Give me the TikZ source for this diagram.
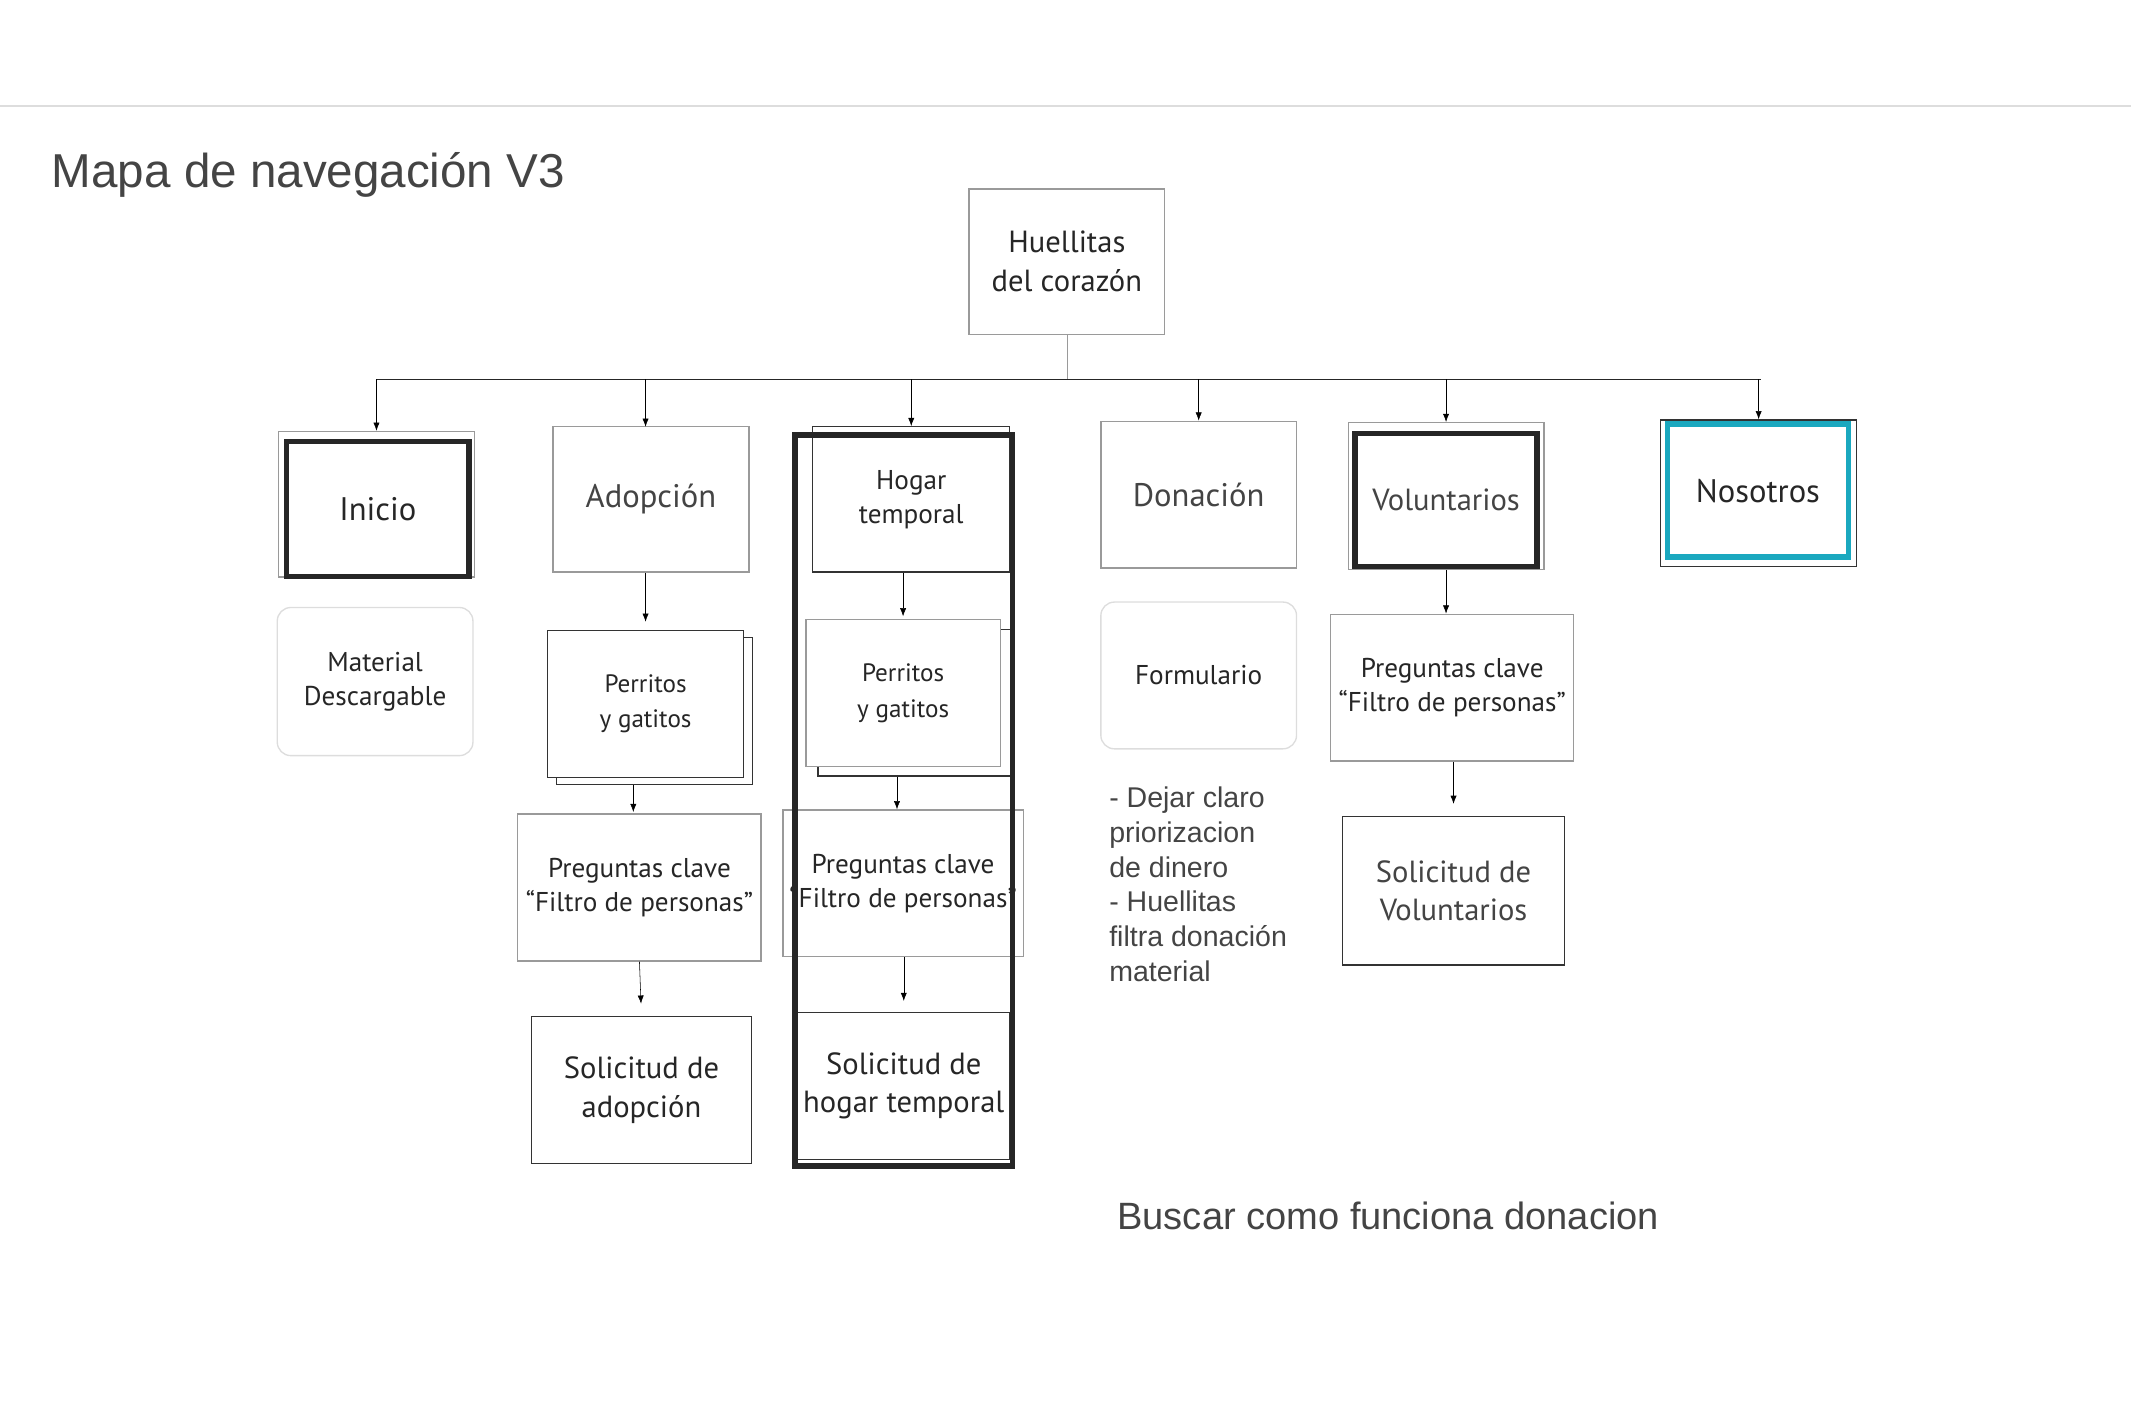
\documentclass[tikz,border=0pt]{standalone}
\usepackage{fontspec}
\setmainfont{PT Sans}
\newfontfamily\slidesfont{Liberation Sans}
\usetikzlibrary{arrows.meta}
\definecolor{boxgray}{HTML}{9A9A9A}
\definecolor{softgray}{HTML}{DDDDDD}
\definecolor{textgray}{HTML}{444444}
\definecolor{labelink}{HTML}{262626}
\definecolor{nosotrosteal}{HTML}{1AA8BF}
\newcommand\labelhuge{\fontsize{24}{29}\selectfont}
\newcommand\labelbig{\fontsize{22.5}{28.5}\selectfont}
\newcommand\labelsmall{\fontsize{20}{25}\selectfont}
\newcommand\labeltiny{\fontsize{18.5}{26}\selectfont}

\begin{document}
\begin{tikzpicture}[x=1pt,y=-1pt,>={Latex[length=6pt,width=4.5pt]}]
     \useasboundingbox (0,0) rectangle (1568,1040);
     \tikzstyle{box} = [draw=boxgray,line width=1pt,fill=white,inner sep=0pt,align=center,text=labelink,minimum width=144pt,minimum height=107pt]
     \tikzstyle{darkbox} = [box,draw=black!80]
     \tikzstyle{softbox} = [box,draw=softgray,rounded corners=10pt]
     \tikzstyle{heavybox} = [draw=black!85,line width=4pt,inner sep=0pt,align=center,text=labelink]
     \tikzstyle{slidestext} = [inner sep=0pt,text=textgray,align=left]
     \draw [softgray,line width=2pt] (0,78) -- (1568,78);
     \node [slidestext,anchor=west,font=\slidesfont\fontsize{35}{40}\selectfont] (titulo) at (38,129) {Mapa de navegación V3};
     \node [box,font=\labelbig] (huellitas) at (785,192.5) {Huellitas\\del corazón};
     \coordinate (busL) at (277,279);
     \coordinate (busR) at (1296,279);
     \node [box] (inicioback) at (277,371) {};
     \node [heavybox,minimum width=134pt,minimum height=99pt,font=\labelhuge] (inicio) at (278,374.5) {Inicio};
     \node [softbox,minimum height=109pt,font=\labelsmall] (material) at (276,501.5) {Material\\Descargable};
     \node [box,font=\labelhuge,text=textgray] (adopcion) at (479,367.5) {Adopción};
     \node [darkbox,minimum height=108pt] (perritosAback) at (481.5,523) {};
     \node [darkbox,minimum height=108pt,font=\labeltiny] (perritosA) at (475,518) {Perritos\\y gatitos};
     \node [box,minimum width=179pt,minimum height=108pt,font=\labelsmall] (preguntasA) at (470.5,653) {Preguntas clave\\“Filtro de personas”};
     \node [darkbox,minimum width=162pt,minimum height=108pt,font=\labelbig] (solicitudA) at (472,802) {Solicitud de\\adopción};
     \node [darkbox,minimum width=145pt,font=\labelsmall] (hogar) at (670.5,367.5) {Hogar\\temporal};
     \node [darkbox,minimum width=143pt,minimum height=108pt] (perritosHback) at (673.5,517) {};
     \node [box,minimum width=143pt,minimum height=108pt,font=\labeltiny] (perritosH) at (664.5,510) {Perritos\\y gatitos};
     \node [box,minimum width=177pt,minimum height=108pt,font=\labelsmall] (preguntasH) at (664.5,650) {Preguntas clave\\“Filtro de personas”};
     \node [darkbox,minimum width=156pt,minimum height=108pt,font=\labelbig] (solicitudH) at (665,799) {Solicitud de\\hogar temporal};
     \node [heavybox,minimum width=160pt,minimum height=538pt] (hogarcol) at (665,589) {};
     \node [box,minimum height=108pt,font=\labelhuge,text=textgray] (donacion) at (882,364) {Donación};
     \node [softbox,minimum height=108pt,font=\labelsmall] (formulario) at (882,497) {Formulario};
     \node [slidestext,anchor=north west,font=\slidesfont\fontsize{21}{25.5}\selectfont] (notas) at (816,579) {- Dejar claro\\priorizacion\\de dinero\\- Huellitas\\filtra donación\\material};
     \node [box,minimum height=108pt] (voluntariosback) at (1064,365) {};
     \node [heavybox,minimum width=134pt,minimum height=98pt,font=\labelbig,text=textgray] (voluntarios) at (1064,368) {Voluntarios};
     \node [box,minimum width=179pt,minimum height=108pt,font=\labelsmall] (preguntasV) at (1068.5,506) {Preguntas clave\\“Filtro de personas”};
     \node [darkbox,minimum width=163pt,minimum height=109pt,font=\labelbig,text=textgray] (solicitudV) at (1069.5,655.5) {Solicitud de\\Voluntarios};
     \node [darkbox,minimum height=108pt] (nosotrosback) at (1294,363) {};
     \node [heavybox,draw=nosotrosteal,minimum width=133pt,minimum height=98pt,font=\labelhuge] (nosotros) at (1293.5,361) {Nosotros};
     \node [slidestext,anchor=west,font=\slidesfont\fontsize{28}{32}\selectfont] (buscar) at (822,895) {Buscar como funciona donacion};
     \draw [boxgray] (huellitas.south) to (huellitas.south |- busL);
     \draw [black!85] (busL) to (busR);
     \draw [->] (busL) to (inicioback.north);
     \draw [->] (busL -| 475,0) to (475,314);
     \draw [->] (hogar.north |- busL) to (hogar.north);
     \draw [->] (donacion.north |- busL) to (donacion.north);
     \draw [->] (voluntariosback.north |- busL) to (voluntariosback.north);
     \draw [->] (nosotrosback.north |- busL) to (nosotrosback.north);
     \draw [->,shorten >=6pt] (adopcion.south -| perritosA.north) to (perritosA.north);
     \draw [->,shorten >=1pt] (perritosAback.south -| 466,0) to (preguntasA.north -| 466,0);
     \draw [->,shorten >=9pt] (preguntasA.south) to (solicitudA.north);
     \draw [->,shorten >=2pt] (hogar.south -| perritosH.north) to (perritosH.north);
     \draw [->] (perritosHback.south -| 660,0) to (preguntasH.north -| 660,0);
     \draw [->,shorten >=8pt] (preguntasH.south -| solicitudH.north) to (solicitudH.north);
     \draw [->] (voluntariosback.south) to (voluntariosback.south |- preguntasV.north);
     \draw [->,shorten >=9pt] (preguntasV.south -| solicitudV.north) to (solicitudV.north);
   \end{tikzpicture}
\end{document}
